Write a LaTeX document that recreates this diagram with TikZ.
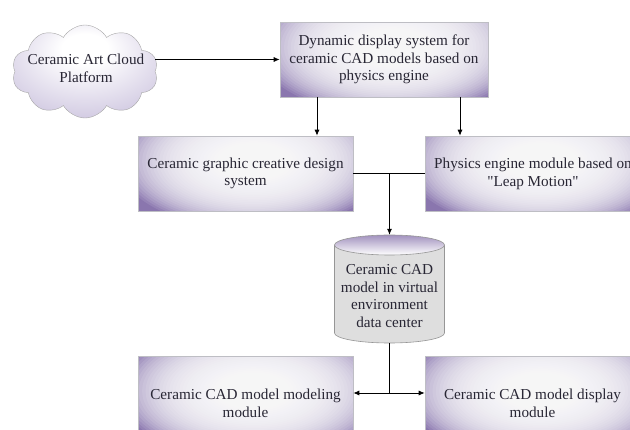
\documentclass[tikz,border=0pt]{standalone}
\usepackage{fontspec}
\setmainfont{Liberation Serif}[Ligatures=TeXOff]
\usetikzlibrary{shapes.symbols,arrows.meta}
\definecolor{purp}{RGB}{138,118,174}
\definecolor{cloudpurp}{RGB}{172,158,202}
\definecolor{boxedge}{RGB}{190,190,196}
\definecolor{cylgray}{RGB}{222,222,222}
\definecolor{cyledge}{RGB}{150,150,150}
\definecolor{ink}{RGB}{40,38,52}
\pgfdeclareradialshading{cloudshade}{\pgfpoint{0bp}{14bp}}{color(0bp)=(white); color(8bp)=(white); color(42bp)=(cloudpurp!75!white); color(65bp)=(cloudpurp)}

\begin{document}
\begin{tikzpicture}[x=1pt,y=-1pt,
  font=\fontsize{15.2}{17.7}\selectfont, text=ink,
  % purple block with a soft white glow built from stacked translucent ellipses
  block/.style={rectangle, draw=boxedge, line width=0.6pt, fill=purp,
    path picture={\foreach \s in {1.000,0.975,...,0.05} {
      \fill[white, fill opacity=0.1]
        ([xshift=8pt,yshift=12pt]path picture bounding box.center)
        ellipse [x radius=\s*135, y radius=\s*68];}},
    minimum width=215pt, minimum height=75pt, align=center, inner sep=2pt},
  link/.style={line width=0.8pt},
  arr/.style={link, -{Latex[length=6pt,width=5pt]}}]
\useasboundingbox (0,0) rectangle (630,430);
\clip (0,0) rectangle (630,430);

% cloud source
\node[cloud, cloud puffs=10, cloud puff arc=120, aspect=1.57,
  minimum width=146pt, minimum height=93pt, inner sep=0pt,
  draw=gray!70, shade, shading=cloudshade] (cloud) at (85,71.5) {};
\node[align=center] (cloudtext) at (86,68) {Ceramic Art Cloud\\Platform};

% system blocks
\node[block, minimum width=208pt] (dyn) at (384,59.5)
  {Dynamic display system for\\ceramic CAD models based on\\physics engine};
\node[block] (creative) at (245.5,173.5) {Ceramic graphic creative design\\system};
\node[block] (physics) at (533,173.5) {Physics engine module based on\\"Leap Motion"};
\node[block, minimum height=94pt] (modeling) at (245.5,403) {Ceramic CAD model modeling\\module};
\node[block, minimum height=94pt] (display) at (532.5,403) {Ceramic CAD model display\\module};

% data center cylinder
\node[minimum width=110pt, minimum height=108pt, inner sep=0pt] (db) at (389.5,289) {};
\path[fill=cylgray, draw=cyledge, line width=0.6pt]
  (334.5,245) -- (334.5,333) arc[start angle=180, end angle=0, x radius=55, y radius=10]
  -- (444.5,245);
\path[shade, top color=purp!80, bottom color=white, draw=cyledge, line width=0.6pt]
  (389.5,245) ellipse [x radius=55, y radius=10];
\node[align=center] (dbtext) at (389.5,296)
  {Ceramic CAD\\model in virtual\\environment\\data center};

% connectors
\coordinate (t1) at (317,0);
\coordinate (t2) at (460,0);
\coordinate (j) at (389.5,173.5);
\coordinate (k) at (389.5,393);

\draw[arr] (cloud.east |- dyn.west) -- (dyn.west);
\draw[arr] (dyn.south -| t1) -- (creative.north -| t1);
\draw[arr] (dyn.south -| t2) -- (physics.north -| t2);
\draw[link] (creative.east) -- (physics.west);
\draw[arr] (j) -- (db.north);
\draw[link] (db.south) -- (k);
\draw[arr] (k) -- (modeling.east |- k);
\draw[arr] (k) -- (display.west |- k);
\end{tikzpicture}
\end{document}
